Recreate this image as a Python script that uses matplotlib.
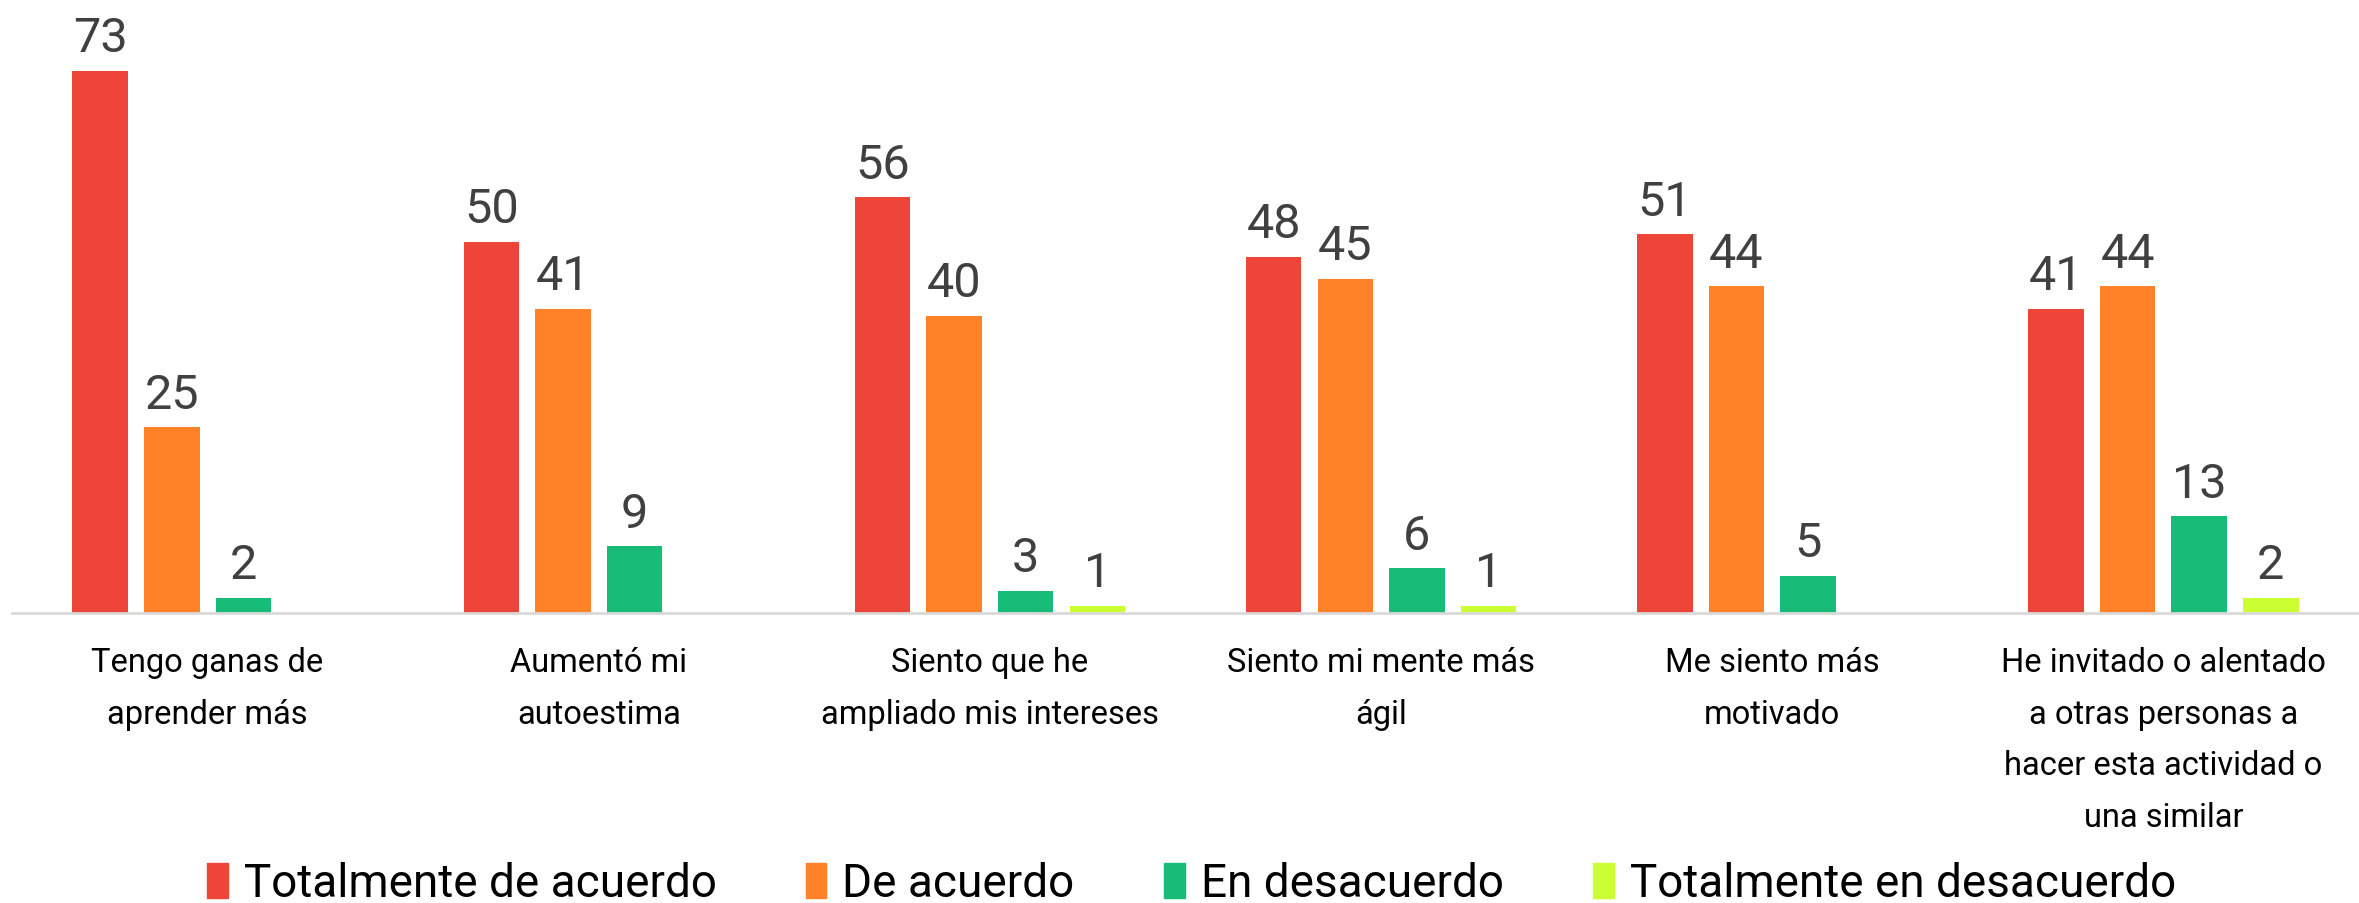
import numpy as np
import matplotlib.pyplot as plt
from matplotlib.patches import Patch

plt.rcParams['font.family'] = ['Roboto', 'DejaVu Sans']

# Data
categories = ['Tengo ganas de\naprender más', 'Aumentó mi\nautoestima',
              'Siento que he\nampliado mis intereses', 'Siento mi mente más\nágil',
              'Me siento más\nmotivado',
              'He invitado o alentado\na otras personas a\nhacer esta actividad o\nuna similar']
series = ['Totalmente de acuerdo', 'De acuerdo', 'En desacuerdo', 'Totalmente en desacuerdo']
tot_acuerdo = [73, 50, 56, 48, 51, 41]
de_acuerdo = [25, 41, 40, 45, 44, 44]
en_desacuerdo = [2, 9, 3, 6, 5, 13]
tot_desacuerdo = [0, 0, 1, 1, 0, 2]
colors = ['#EE4539', '#FF8228', '#16BC77', '#CCFF33']

values = [tot_acuerdo, de_acuerdo, en_desacuerdo, tot_desacuerdo]

# Figure
fig = plt.figure(figsize=(23.59, 9.04), dpi=100)
ax = fig.add_axes([12/2359, 1 - 614/904, 1 - 12/2359, 614/904])

x = np.arange(len(categories))
step = 0.183
width = 0.142
for j, vals in enumerate(values):
    pos = x + (j - 1.5) * step
    ax.bar(pos, vals, width, color=colors[j], zorder=2)
    for p, v in zip(pos, vals):
        if v > 0:
            ax.text(p, v + 1.3, str(v), ha='center', va='bottom',
                    fontsize=35, color='#404040')

ax.set_xlim(-0.5, len(categories) - 0.5)
ax.set_ylim(0, 82.7)
for s in ['top', 'right', 'left']:
    ax.spines[s].set_visible(False)
ax.spines['bottom'].set_color('#D9D9D9')
ax.spines['bottom'].set_linewidth(2)
ax.set_yticks([])
ax.set_xticks(x)
ax.set_xticklabels(categories, fontsize=23.5, linespacing=1.78, color='black')
ax.tick_params(axis='x', length=0, pad=24)

handles = [Patch(color=c) for c in colors]
fig.legend(handles, series, loc='lower center', bbox_to_anchor=(0.505, -0.048),
           ncol=4, frameon=False, fontsize=33, handlelength=0.45, handleheight=0.8,
           handletextpad=0.35, columnspacing=1.95)

fig.savefig('out.png', dpi=100)
